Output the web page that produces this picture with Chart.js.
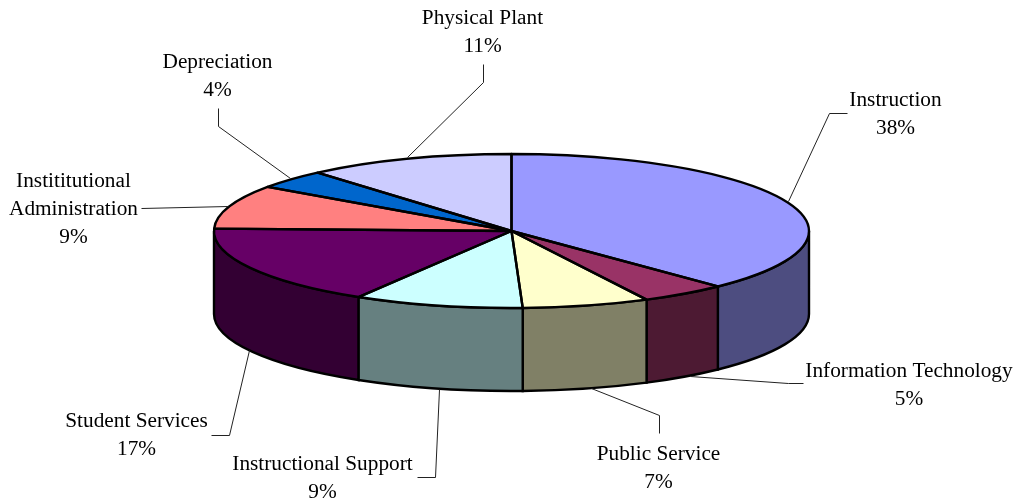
<!DOCTYPE html>
<html lang="en">
<head>
  <meta charset="UTF-8">
  <title>Expenses by function</title>
  <script src="https://cdn.jsdelivr.net/npm/chart.js"></script>
  <style>
    html, body { margin: 0; background: #fff; }
    canvas { display: block; }
  </style>
</head>
<body>
  <canvas id="pie" width="1018" height="499"></canvas>

  <script>
    // starts at 12 o'clock, clockwise
    const categories = ['Instruction', 'Information Technology', 'Public Service', 'Instructional Support',
      'Student Services', 'Instititutional Administration', 'Depreciation', 'Physical Plant'];
    const shares = [37.8, 4.7, 6.9, 9.2, 16.9, 9.2, 4.0, 11.3];

    const topColors = ['#9999ff', '#993366', '#ffffcc', '#ccffff', '#660066', '#ff8080', '#0066cc', '#ccccff'];
    const wallColors = ['#4d4d80', '#4d1a33', '#808066', '#668080', '#330033', '#804040', '#003366', '#666680'];

    // label text lines, text anchor and leader line, all in canvas pixels
    const labelLines = [['Instruction'], ['Information Technology'], ['Public Service'], ['Instructional Support'],
      ['Student Services'], ['Instititutional', 'Administration'], ['Depreciation'], ['Physical Plant']];
    const labelAnchors = [[895.5, 106], [909, 377], [658.5, 460], [322.5, 470], [136.5, 427], [73.5, 187], [217.5, 68], [482.5, 24]];
    const leaders = [
      [[847, 113], [829, 113], [788, 201]],
      [[803, 383], [788, 383], [690, 376]],
      [[659, 433], [659, 415], [591, 388]],
      [[417, 477], [435, 477], [439, 389]],
      [[211, 435], [229, 435], [249, 350]],
      [[141, 208], [228, 206]],
      [[218, 108], [218, 126], [290, 178]],
      [[483, 64], [483, 82], [407, 157]]
    ];

    const tilt = 77 / 297.5;
    const depth = 83;
    const lineHeight = 28;

    const pie3d = {
      id: 'pie3d',
      beforeDatasetsDraw(chart) {
        const ctx = chart.ctx;
        const arcs = chart.getDatasetMeta(0).data;
        const { x, y, outerRadius } = arcs[0];
        const ry = outerRadius * tilt;

        ctx.save();
        ctx.lineWidth = 2.4;
        ctx.strokeStyle = '#000';
        arcs.forEach((arc, i) => {
          // only the part of the rim facing the viewer has a wall
          const a0 = Math.max(arc.startAngle, 0);
          const a1 = Math.min(arc.endAngle, Math.PI);
          if (a1 <= a0) return;
          ctx.beginPath();
          ctx.ellipse(x, y, outerRadius, ry, 0, a0, a1);
          ctx.ellipse(x, y + depth, outerRadius, ry, 0, a1, a0, true);
          ctx.closePath();
          ctx.fillStyle = wallColors[i];
          ctx.fill();
          ctx.stroke();
        });
        ctx.restore();

        // squash the library's own arcs into the tilted top face
        ctx.save();
        ctx.translate(x, y);
        ctx.scale(1, tilt);
        ctx.translate(-x, -y);
      },
      afterDatasetsDraw(chart) {
        const ctx = chart.ctx;
        ctx.restore();

        const arcs = chart.getDatasetMeta(0).data;
        const { x, y, outerRadius } = arcs[0];
        const ry = outerRadius * tilt;

        ctx.save();
        ctx.lineWidth = 2.4;
        ctx.strokeStyle = '#000';
        ctx.lineJoin = 'round';
        arcs.forEach(arc => {
          ctx.beginPath();
          ctx.moveTo(x, y);
          ctx.ellipse(x, y, outerRadius, ry, 0, arc.startAngle, arc.endAngle);
          ctx.closePath();
          ctx.stroke();
        });

        ctx.lineWidth = 1;
        ctx.strokeStyle = '#222';
        leaders.forEach(pts => {
          ctx.beginPath();
          pts.forEach((p, i) => i ? ctx.lineTo(p[0] + 0.5, p[1] + 0.5) : ctx.moveTo(p[0] + 0.5, p[1] + 0.5));
          ctx.stroke();
        });

        ctx.fillStyle = '#000';
        ctx.font = '21.3px "Liberation Serif"';
        ctx.textAlign = 'center';
        ctx.textBaseline = 'alphabetic';
        labelLines.forEach((lines, i) => {
          const [tx, ty] = labelAnchors[i];
          lines.forEach((line, k) => ctx.fillText(line, tx, ty + k * lineHeight));
          ctx.fillText(Math.round(shares[i]) + '%', tx, ty + lines.length * lineHeight);
        });
        ctx.restore();
      }
    };

    new Chart(document.getElementById('pie'), {
      type: 'pie',
      data: {
        labels: categories,
        datasets: [{
          data: shares,
          backgroundColor: topColors,
          borderWidth: 0,
          clip: false
        }]
      },
      options: {
        responsive: false,
        animation: false,
        events: [],
        radius: 297.5,
        layout: { padding: { left: 5, right: 0, top: 0, bottom: 37 } },
        plugins: { legend: { display: false }, tooltip: { enabled: false } }
      },
      plugins: [pie3d]
    });
  </script>
</body>
</html>
